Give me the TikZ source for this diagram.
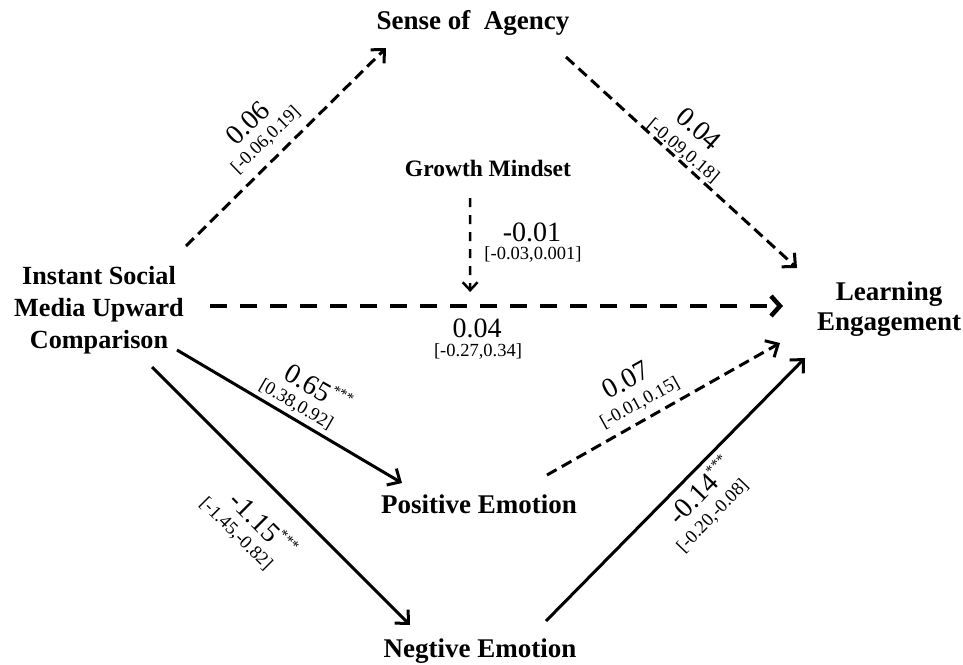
\documentclass[tikz,border=0pt]{standalone}
\usepackage{fontspec}
\setmainfont{Liberation Serif}
\usetikzlibrary{calc,arrows.meta}
\tikzset{var/.style={font=\fontsize{27}{32}\selectfont\bfseries,inner
sep=0pt,align=center,anchor=base},modvar/.style={var,font=\fontsize{23.5}{28}\selectfont\bfseries},
coef/.style={font=\fontsize{28}{30}\selectfont,inner sep=0pt},ci/.style={font=\fontsize{18.5}{20}\selectfont,inner
sep=0pt},sigpath/.style={line width=3pt,-{Straight Barb[length=10pt,width=19pt]}},
nspath/.style={sigpath,dash pattern=on 11pt off 6pt}}
\newcommand{\sigstars}{\rlap{\raisebox{0.42em}{\fontsize{15}{15}\selectfont***}}}

\begin{document}
\begin{tikzpicture}[x=1pt,y=-1pt]
		\useasboundingbox (0,0) rectangle (963,664);
		% variables (base = last line)
		\node[var] (agency) at (473,29) {Sense of~ Agency};
		\node[modvar] (growth) at (488,176) {Growth Mindset};
		\node[var,font=\fontsize{26.2}{32}\selectfont\bfseries] (ismuc) at (99,348) {Instant Social\\Media Upward\\Comparison};
		\node[var,font=\fontsize{27}{30}\selectfont\bfseries] (engage) at (889,330) {Learning\\Engagement};
		\node[var] (pos) at (479,513) {Positive Emotion};
		\node[var] (neg) at (480,657) {Negtive Emotion};
		% paths
		\draw[nspath] ($(ismuc.base)+(87,-102)$) -- ($(agency.base)+(-87,19)$);
		\draw[nspath] ($(agency.base)+(93,28)$) -- ($(engage.base)+(-92,-62)$);
		\draw[nspath,line width=4.5pt,dash pattern=on 17pt off 13pt,-{Straight Barb[length=9pt,width=20pt]}]
			($(ismuc.base)+(111,-42)$) -- coordinate[pos=0.454] (direct) ($(engage.base)+(-106,-24)$);
		\draw[nspath,line width=2.5pt,dash pattern=on 9pt off 8pt,-{Straight Barb[length=8pt,width=15pt]}]
			($(growth.base)+(-18,22)$) -- ($(direct)+(0,-14)$);
		\draw[sigpath] ($(ismuc.base)+(78,2)$) -- ($(pos.base)+(-77,-30)$);
		\draw[sigpath] ($(ismuc.base)+(53,19)$) -- ($(neg.base)+(-70,-32)$);
		\draw[nspath] ($(pos.base)+(68,-38)$) -- ($(engage.base)+(-109,13)$);
		\draw[sigpath] ($(neg.base)+(66,-36)$) -- ($(engage.base)+(-84,28)$);
		% coefficients
		\node[coef,rotate=44] (b06) at (248,123) {0.06};
		\node[ci,rotate=44] (ci06) at (266,140) {[-0.06,0.19]};
		\node[coef,rotate=-41] (b04) at (699,129) {0.04};
		\node[ci,rotate=-40] (ci04) at (683,151) {[-0.09,0.18]};
		\node[coef] (b01) at (532,232) {-0.01};
		\node[ci] (ci01) at (533,254) {[-0.03,0.001]};
		\node[coef] (bdir) at (477,328) {0.04};
		\node[ci] (cidir) at (478,351) {[-0.27,0.34]};
		\node[coef,rotate=-30] (b65) at (309,382) {0.65\sigstars};
		\node[ci,rotate=-30] (ci65) at (296,405) {[0.38,0.92]};
		\node[coef,rotate=-45] (b115) at (256,516) {-1.15\sigstars};
		\node[ci,rotate=-45] (ci115) at (236,534) {[-1.45,-0.82]};
		\node[coef,rotate=29] (b07) at (626,380) {0.07};
		\node[ci,rotate=29] (ci07) at (640,403) {[-0.01,0.15]};
		\node[coef,rotate=46] (b14) at (692,498) {-0.14\sigstars};
		\node[ci,rotate=46] (ci14) at (713,516) {[-0.20,-0.08]};
	\end{tikzpicture}
\end{document}
